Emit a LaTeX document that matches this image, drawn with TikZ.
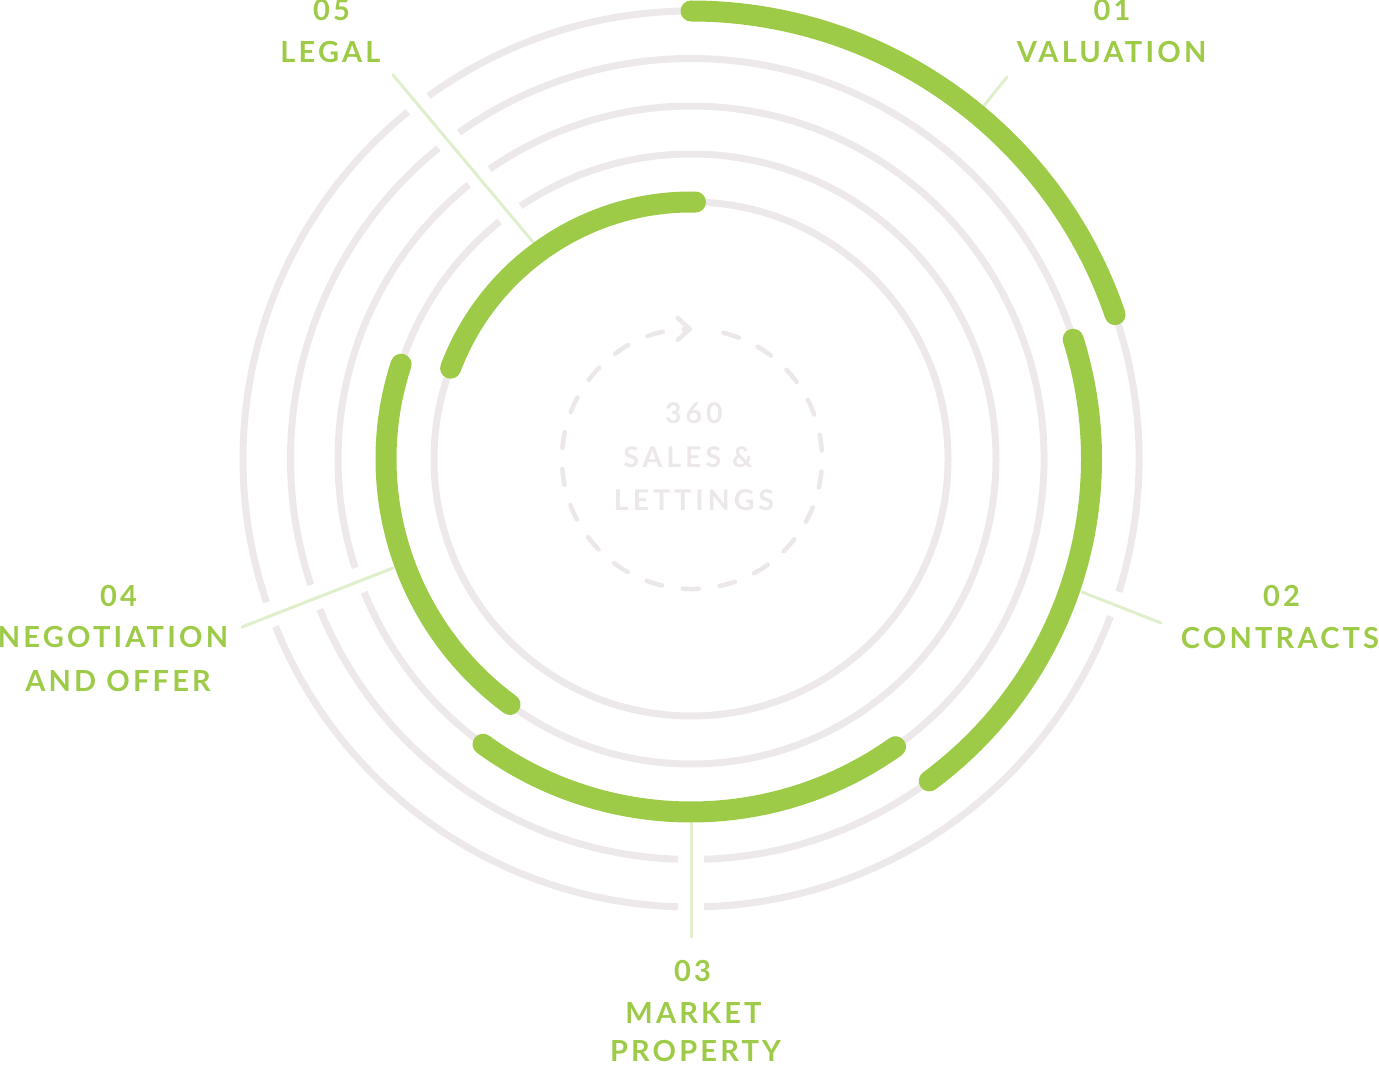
\documentclass[tikz,border=0pt]{standalone}
\usepackage{fontspec}
\usetikzlibrary{arrows.meta}
\newfontfamily\lblfont[LetterSpace=11]{Lato}
\newfontfamily\ctrfont[LetterSpace=14]{Lato}
\definecolor{ringgray}{HTML}{EDE9EA}
\definecolor{leafgreen}{HTML}{9DCB47}
\definecolor{leadergreen}{HTML}{E0EFCB}
\definecolor{centergray}{HTML}{ECE8E9}
\newcommand\ringarc[3]{\draw[ring] (c) ++(#1:#3) arc[start angle=#1,end angle=#2,radius=#3];}
\newcommand\bandarc[3]{\draw[band] (c) ++(#1:#3) arc[start angle=#1,end angle=#2,radius=#3];}
\begin{document}
\begin{tikzpicture}[x=1pt,y=1pt,
  ring/.style={draw=ringgray,line width=7pt},
  band/.style={draw=leafgreen,line width=21pt,line cap=round},
  leader/.style={draw=leadergreen,line width=3pt,line cap=round},
  lbl/.style={text=leafgreen,font=\lblfont\bfseries\fontsize{29}{29}\selectfont,anchor=base,inner sep=0pt},
  ctr/.style={text=centergray,font=\ctrfont\bfseries\fontsize{28.5}{28.5}\selectfont,anchor=base,inner sep=0pt},
  dashring/.style={draw=centergray,line width=4.5pt,line cap=round,dash pattern=on 16pt off 21pt,
    -{Straight Barb[length=12pt,width=22pt,round]}}]
\useasboundingbox (0,0) rectangle (1379,-1067);
\coordinate (c) at (691,-459);
\coordinate (cc) at (692,-459);
% gray rings with gaps
\ringarc{129.21}{198.64}{448}
\ringarc{201.96}{268.34}{448}
\ringarc{271.66}{339.44}{448}
\ringarc{342.76}{485.89}{448}
\ringarc{129.12}{198.34}{400.5}
\ringarc{202.06}{268.14}{400.5}
\ringarc{271.86}{485.4}{400.5}
\ringarc{129.01}{197.96}{353}
\ringarc{202.18}{484.79}{353}
\ringarc{128.84}{483.96}{305}
\draw[ring] (c) circle[radius=257];
% leaders
\coordinate (l1a) at (983,-107); \coordinate (l1b) at (1007,-77);
\coordinate (l2a) at (1082,-592); \coordinate (l2b) at (1161,-623);
\coordinate (l3a) at (691,-823); \coordinate (l3b) at (691,-937);
\coordinate (l4a) at (393,-568); \coordinate (l4b) at (242,-627);
\coordinate (l5a) at (533,-242); \coordinate (l5b) at (393,-75);
\draw[leader] (l1a) -- (l1b);
\draw[leader] (l2a) -- (l2b);
\draw[leader] (l3a) -- (l3b);
\draw[leader] (l4a) -- (l4b);
\draw[leader] (l5a) -- (l5b);
% green bands
\bandarc{90}{18.8}{448}
\bandarc{17.4}{-53.5}{400.5}
\bandarc{-54.6}{-126.1}{353}
\bandarc{-126.4}{-198.1}{305}
\bandarc{-200.7}{-271}{257}
% center
\draw[dashring] (cc) ++(76:130) arc[start angle=76,end angle=-270,radius=130];
\node[ctr] (t360) at (694,-423) {360};
\node[ctr] (tsales) at (688,-467) {SALES \&};
\node[ctr] (tlet) at (694,-510) {LETTINGS};
% labels
\node[lbl] (n1) at (1112,-21) {01};
\node[lbl] (t1) at (1111.5,-63) {VALUATION};
\node[lbl] (n2) at (1281.5,-606) {02};
\node[lbl] (t2) at (1280,-648) {CONTRACTS};
\node[lbl] (n3) at (692.5,-981) {03};
\node[lbl] (t3a) at (693.5,-1023) {MARKET};
\node[lbl] (t3b) at (695.5,-1061) {PROPERTY};
\node[lbl] (n4) at (118.5,-606) {04};
\node[lbl] (t4a) at (113,-647) {NEGOTIATION};
\node[lbl] (t4b) at (118,-691) {AND OFFER};
\node[lbl] (n5) at (331.5,-21) {05};
\node[lbl] (t5) at (330.5,-63) {LEGAL};
\end{tikzpicture}
\end{document}
